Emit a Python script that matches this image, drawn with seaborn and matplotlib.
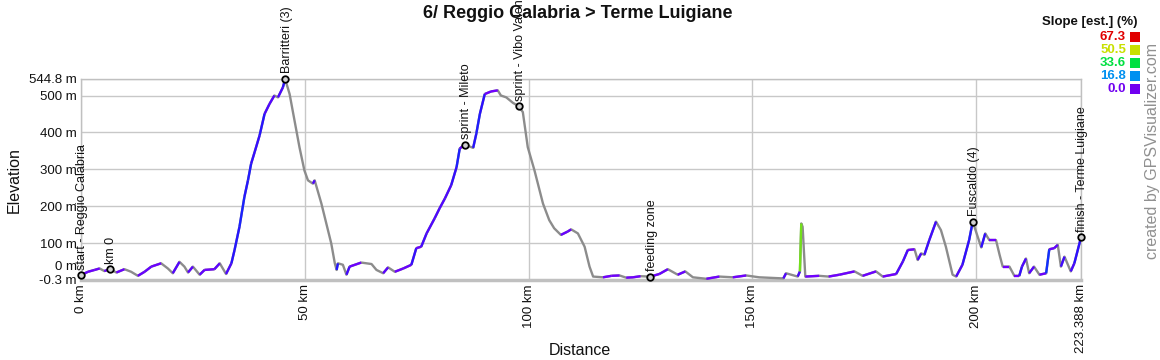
import numpy as np
import pandas as pd
import matplotlib
matplotlib.use("Agg")
import matplotlib.pyplot as plt
import seaborn as sns
from matplotlib.collections import LineCollection
from matplotlib.colors import LinearSegmentedColormap
from matplotlib.patches import Rectangle

# ---------------- data ----------------
distance_km = [
    0, 1.56, 3.05, 4.17, 5.2, 6.5, 7.9, 9.7, 11.2, 12.7, 14.2, 15.7, 17.9, 19.4, 20.5,
    22.0, 23.1, 23.9, 25.0, 26.5, 27.6, 29.8, 31.0, 32.4, 33.6, 34.3, 35.4, 36.5, 37.3,
    38.0, 38.8, 39.9, 41.0, 42.1, 43.2, 44.0, 45.1, 45.6, 46.6, 48.1, 48.8, 49.9, 50.7,
    51.8, 52.2, 53.7, 54.8, 55.9, 56.7, 57.1, 57.4, 58.5, 59.3, 60.0, 62.6, 64.9, 66.0,
    67.5, 68.6, 70.1, 72.0, 73.8, 74.9, 76.0, 77.2, 79.0, 80.1, 81.3, 82.7, 83.9, 84.6,
    85.7, 87.6, 88.3, 89.1, 90.2, 91.6, 93.1, 93.8, 95.0, 96.5, 97.8, 98.7, 99.8, 101.3,
    103.2, 104.6, 105.7, 107.2, 108.7, 109.5, 111.0, 112.5, 113.6, 114.4, 116.6, 118.5,
    120.3, 121.8, 123.3, 125.0, 127.2, 129.2, 131.1, 133.3, 135.0, 136.7, 139.7, 142.6,
    145.6, 148.6, 151.5, 156.9, 157.5, 160.1, 160.6, 160.9, 161.2, 161.8, 164.9, 167.0,
    169.4, 172.8, 174.6, 177.6, 179.1, 182.1, 183.6, 184.7, 186.2, 186.9, 187.7, 188.4,
    189.5, 191.0, 192.1, 193.2, 194.7, 195.5, 196.9, 198.4, 199.2, 200.3, 201.1, 202.0,
    202.9, 204.4, 205.2, 205.9, 207.4, 208.5, 209.6, 210.2, 211.1, 211.8, 212.9, 214.1,
    215.6, 216.3, 217.4, 218.2, 218.9, 219.7, 221.1, 221.9, 223.388,
]
elevation_m = [
    13, 22, 27, 31, 24, 29, 20, 29, 22, 11, 22, 36, 45, 31, 18,
    49, 36, 20, 36, 14, 27, 29, 45, 16, 45, 81, 144, 225, 270,
    315, 347, 392, 450, 477, 500, 495, 522, 544.8, 504, 405, 360, 297, 270,
    261, 270, 207, 153, 99, 45, 27, 45, 41, 14, 36, 47, 43, 27,
    18, 34, 22, 31, 41, 86, 90, 126, 167, 194, 221, 257, 306, 356,
    367, 358, 396, 450, 504, 511, 514, 500, 495, 480, 471, 455, 360, 297,
    207, 162, 140, 122, 131, 137, 126, 90, 36, 9, 7, 11,
    12, 6, 7, 10, 9, 16, 29, 14, 23, 7, 3, 9,
    7, 12, 7, 4, 18, 9, 23, 153, 144, 9, 11, 9,
    14, 23, 11, 23, 9, 16, 50, 81, 83, 54, 72, 68,
    108, 158, 135, 90, 14, 9, 41, 108, 158, 117, 88, 126,
    108, 108, 68, 36, 36, 11, 11, 36, 58, 18, 36, 14,
    18, 83, 86, 95, 36, 63, 23, 45, 115,
]

waypoint_names = ["start - Reggio Calabria", "km 0", "Barritteri (3)", "sprint - Mileto",
                  "sprint - Vibo Valentia", "feeding zone", "Fuscaldo (4)",
                  "finish - Terme Luigiane"]
waypoint_km = [0, 6.5, 45.6, 85.7, 97.8, 127.2, 199.2, 223.388]
waypoint_elev = [13, 29, 544.8, 367, 471, 9, 158, 115]

x_ticks = [0, 50, 100, 150, 200, 223.388]
x_tick_labels = ["0 km", "50 km", "100 km", "150 km", "200 km", "223.388 km"]
y_ticks = [-0.3, 100, 200, 300, 400, 500, 544.8]
y_tick_labels = ["-0.3 m", "100 m", "200 m", "300 m", "400 m", "500 m", "544.8 m"]

slope_legend_values = [67.3, 50.5, 33.6, 16.8, 0.0]
slope_legend_colors = ["#e00000", "#c8e000", "#00e040", "#0090f0", "#7000f0"]

title = "6/ Reggio Calabria > Terme Luigiane"

# ---------------- style ----------------
sns.set_theme(style="whitegrid")
plt.rcParams["font.family"] = ["Liberation Sans", "DejaVu Sans"]

W, H = 1160, 360
fig = plt.figure(figsize=(W / 100, H / 100), dpi=100)
fig.patch.set_facecolor("white")
ax = fig.add_axes([81 / W, 1 - 280 / H, 1000 / W, 201 / H])
ax.set_facecolor("white")

df = pd.DataFrame({"km": distance_km, "elev": elevation_m})

# gray base profile
sns.lineplot(data=df, x="km", y="elev", ax=ax, color="#8c8c8c", lw=1.7,
             estimator=None, sort=False, zorder=3)

# colored uphill segments by slope
x = np.asarray(distance_km, float)
y = np.asarray(elevation_m, float)
slope = np.diff(y) / (np.diff(x) * 1000) * 100
cmap = LinearSegmentedColormap.from_list(
    "slope",
    [(0.0, "#7000ff"), (0.07, "#2a10ff"), (0.14, "#1030ff"), (0.25, "#0095f0"),
     (0.5, "#00e040"), (0.75, "#c8e000"), (1.0, "#e00000")])
segs, cols = [], []
for i, s in enumerate(slope):
    if s >= 0:
        segs.append([(x[i], y[i]), (x[i + 1], y[i + 1])])
        cols.append(cmap(min(s / 67.3, 1.0)))
lc = LineCollection(segs, colors=cols, linewidths=1.7, zorder=4, capstyle="butt")
ax.add_collection(lc)

# waypoints
ax.scatter(waypoint_km, waypoint_elev, s=22, facecolor="#d0d0d0", edgecolor="black",
           linewidth=1.3, zorder=6, clip_on=False)
for name, wx, wy in zip(waypoint_names, waypoint_km, waypoint_elev):
    ax.annotate(name, xy=(wx, wy), xytext=(1, 4), textcoords="offset points",
                rotation=90, ha="center", va="bottom", fontsize=9, color="#111111",
                annotation_clip=False, zorder=7)

# axes
ax.set_xlim(0, 223.388)
ax.set_ylim(-0.3, 544.8)
ax.set_xticks(x_ticks)
ax.set_xticklabels(x_tick_labels, rotation=90, fontsize=9.5, color="#111111")
ax.set_yticks(y_ticks)
ax.set_yticklabels(y_tick_labels, fontsize=9.5, color="#111111")
ax.tick_params(axis="x", pad=3, length=0)
ax.tick_params(axis="y", pad=3, length=0)
ax.annotate("0 m", xy=(0, 0), xycoords=("axes fraction", "data"), xytext=(-3, 9),
            textcoords="offset points", ha="right", va="center", fontsize=9.5,
            color="#111111", annotation_clip=False)
ax.grid(True, color="#c8c8c8", lw=1.0)
for side in ["left", "top", "right"]:
    ax.spines[side].set_color("#c0c0c0")
    ax.spines[side].set_linewidth(1.0)
    ax.spines[side].set_visible(True)
ax.spines["bottom"].set_color("#c0c0c0")
ax.spines["bottom"].set_linewidth(2.5)
ax.set_xlabel("Distance", fontsize=11.5, color="#111111", labelpad=0)
ax.xaxis.set_label_coords((580 - 81) / 1000, -(343 - 280) / 201)
ax.set_ylabel("Elevation", fontsize=11.5, color="#111111")
ax.yaxis.set_label_coords(-(81 - 22) / 1000, (280 - 180) / 201)

fig.text(578 / W, 1 - 14 / H, title, ha="center", va="center", fontsize=13,
         fontweight="bold", color="#111111")

# slope legend
fig.text(1138 / W, 1 - 22 / H, "Slope [est.] (%)", ha="right", va="center",
         fontsize=9.5, fontweight="bold", color="#111111")
for i, (v, c) in enumerate(zip(slope_legend_values, slope_legend_colors)):
    yc = 37 + 13 * i
    fig.text(1126 / W, 1 - yc / H, f"{v:.1f}", ha="right", va="center",
             fontsize=9.5, fontweight="bold", color=c)
    fig.patches.append(Rectangle((1130 / W, 1 - (yc + 5) / H), 10 / W, 10 / H,
                                 transform=fig.transFigure, facecolor=c,
                                 edgecolor="none"))

fig.text(1153 / W, 1 - 151 / H, "created by GPSVisualizer.com", rotation=90,
         ha="center", va="center", fontsize=11.5, color="#909090")

fig.savefig("out.png", dpi=100, facecolor="white")
